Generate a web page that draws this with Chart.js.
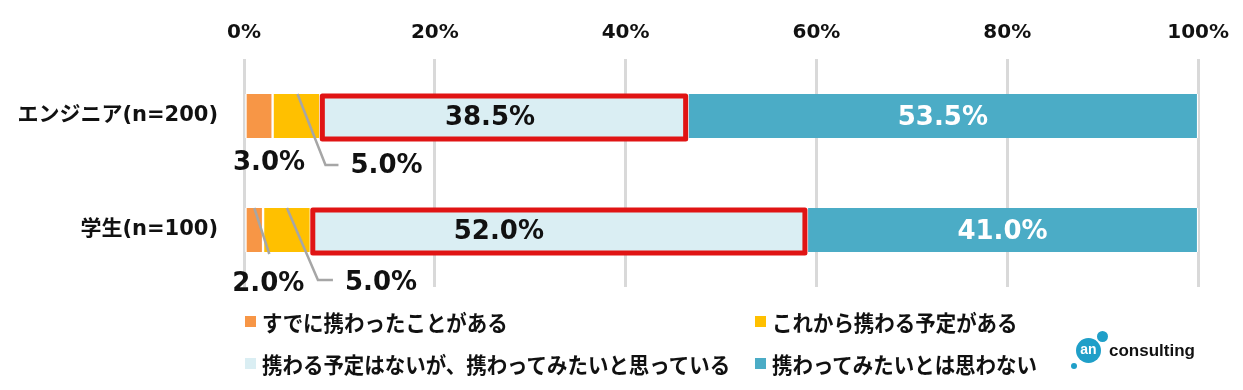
<!DOCTYPE html>
<html>
<head>
<meta charset="utf-8">
<script src="https://cdn.jsdelivr.net/npm/chart.js@4"></script>
<style>
  html, body { margin: 0; padding: 0; background: #fff; }
  #wrap { position: relative; width: 1243px; height: 390px; overflow: hidden; }
  #chart { position: absolute; left: 0; top: 0; }
  .lg { position: absolute; height: 26px; line-height: 26px; font-family: "Noto Sans CJK JP", sans-serif; font-weight: 700; font-size: 22px; color: #111; white-space: nowrap; transform-origin: left center; transform: scaleX(0.93); }
  .sw { position: absolute; width: 11px; height: 11px; }
  .logo-c { position: absolute; border-radius: 50%; background: #1f9fc8; }
  .logo-an { position: absolute; left: 1076px; top: 338px; width: 25px; height: 24px; line-height: 22px; text-align: center; color: #fff; font-family: "Liberation Sans", sans-serif; font-weight: 700; font-size: 14px; }
  .logo-t { position: absolute; left: 1109px; top: 340px; font-family: "Liberation Sans", sans-serif; font-weight: 700; font-size: 17px; color: #111; line-height: 22px; }
</style>
</head>
<body>
<div id="wrap">
  <canvas id="chart" width="1243" height="390"></canvas>
  <div id="legend"></div>
  <div class="logo-c" style="left:1097px;top:331px;width:11px;height:11px;"></div>
  <div class="logo-c" style="left:1076px;top:338px;width:25px;height:25px;"></div>
  <div class="logo-c" style="left:1071px;top:363px;width:6px;height:6px;"></div>
  <div class="logo-an">an</div>
  <div class="logo-t">consulting</div>
</div>
<script>
// ---- data ----
const categories = ['エンジニア(n=200)', '学生(n=100)'];
const seriesNames = ['すでに携わったことがある', 'これから携わる予定がある', '携わる予定はないが、携わってみたいと思っている', '携わってみたいとは思わない'];
const already = [3.0, 2.0];
const planned = [5.0, 5.0];
const wantTo = [38.5, 52.0];
const notWant = [53.5, 41.0];
const xTickValues = [0, 20, 40, 60, 80, 100];

// ---- styles ----
const colors = ['#F79646', '#FFC000', '#DAEEF3', '#4BACC6'];
const numFont = '"DejaVu Sans", sans-serif';
// label offsets for in-bar labels (dataset 2 & 3), px relative to segment centre
const inBarOffset = { 2: [-14, -60], 3: [0, 0] };
// callouts for small segments: offsets relative to segment centre x and bar top/bottom
const callouts = {
  '0-0': { label: [10, 25], align: 'center' },
  '1-0': { leader: [[1, 'top', 0], [29, 'bottom', 27], [42, 'bottom', 27]], label: [54, 28], align: 'left' },
  '0-1': { leader: [[0, 'top', 0], [15, 'bottom', 2]], label: [14, 32], align: 'center' },
  '1-1': { leader: [[0, 'top', 0], [31, 'bottom', 28], [46, 'bottom', 28]], label: [58, 31], align: 'left' }
};

const seriesValues = [already, planned, wantTo, notWant];

const labelPlugin = {
  id: 'labels',
  afterDatasetsDraw(chart) {
    const ctx = chart.ctx;
    // red highlight boxes
    const meta2 = chart.getDatasetMeta(2);
    ctx.save();
    ctx.strokeStyle = '#E01414';
    ctx.lineWidth = 5;
    ctx.lineJoin = 'round';
    meta2.data.forEach(el => {
      const top = el.y - el.height / 2, h = el.height;
      ctx.strokeRect(el.base + 2, top + 2, el.x - el.base - 4, h - 1);
    });
    ctx.restore();

    ctx.save();
    ctx.font = 'bold 26px ' + numFont;
    ctx.textBaseline = 'middle';
    [2, 3].forEach(di => {
      const meta = chart.getDatasetMeta(di);
      meta.data.forEach((el, i) => {
        const v = seriesValues[di][i];
        const cx = (el.x + el.base) / 2 + inBarOffset[di][i];
        ctx.fillStyle = di === 3 ? '#ffffff' : '#111111';
        ctx.textAlign = 'center';
        ctx.fillText(v.toFixed(1) + '%', cx, el.y + 2);
      });
    });
    // callouts
    [0, 1].forEach(di => {
      const meta = chart.getDatasetMeta(di);
      meta.data.forEach((el, i) => {
        const c = callouts[di + '-' + i];
        if (!c) return;
        const cx = (el.x + el.base) / 2;
        const top = el.y - el.height / 2, bottom = el.y + el.height / 2;
        if (c.leader) {
          ctx.beginPath();
          ctx.strokeStyle = '#A6A6A6';
          ctx.lineWidth = 2.5;
          c.leader.forEach((p, k) => {
            const px = cx + p[0];
            const py = (p[1] === 'top' ? top : bottom) + p[2];
            if (k === 0) ctx.moveTo(px, py); else ctx.lineTo(px, py);
          });
          ctx.stroke();
        }
        ctx.fillStyle = '#111111';
        ctx.textAlign = c.align;
        ctx.fillText(seriesValues[di][i].toFixed(1) + '%', cx + c.label[0], bottom + c.label[1]);
      });
    });
    ctx.restore();
  }
};

const datasets = seriesNames.map((name, k) => ({
  label: name,
  data: seriesValues[k],
  backgroundColor: colors[k],
  borderColor: '#ffffff',
  borderWidth: { left: 1.5, right: 1.5, top: 0, bottom: 0 },
  borderSkipped: false,
  barThickness: 44
}));

new Chart(document.getElementById('chart'), {
  type: 'bar',
  data: { labels: categories, datasets },
  options: {
    indexAxis: 'y',
    responsive: false,
    animation: false,
    layout: { padding: { left: 0, right: 43, top: 0, bottom: 103 } },
    plugins: { legend: { display: false }, tooltip: { enabled: false } },
    scales: {
      x: {
        position: 'top',
        stacked: true,
        min: 0, max: 100,
        afterBuildTicks(scale) { scale.ticks = xTickValues.map(v => ({ value: v })); },
        afterFit(scale) { scale.height = 59; },
        ticks: {
          padding: 14,
          color: '#111',
          font: { family: numFont, weight: 'bold', size: 20 },
          callback: v => v + '%'
        },
        grid: { color: '#D9D9D9', lineWidth: 3, drawTicks: false },
        border: { display: false }
      },
      y: {
        stacked: true,
        afterFit(scale) { scale.width = 244; },
        ticks: {
          padding: 18,
          color: '#111',
          font: { family: '"DejaVu Sans", "Noto Sans CJK JP", sans-serif', weight: 'bold', size: 21 }
        },
        grid: { display: false },
        border: { display: false }
      }
    }
  },
  plugins: [labelPlugin]
});

// HTML legend built from series
const legendPos = [[245, 308], [755, 308], [245, 350], [755, 350]];
const lg = document.getElementById('legend');
seriesNames.forEach((name, k) => {
  const sw = document.createElement('div');
  sw.className = 'sw';
  sw.style.left = legendPos[k][0] + 'px';
  sw.style.top = (legendPos[k][1] + 8) + 'px';
  sw.style.background = colors[k];
  lg.appendChild(sw);
  const t = document.createElement('div');
  t.className = 'lg';
  t.style.left = (legendPos[k][0] + 17) + 'px';
  t.style.top = legendPos[k][1] + 'px';
  t.textContent = name;
  lg.appendChild(t);
});
</script>
</body>
</html>
